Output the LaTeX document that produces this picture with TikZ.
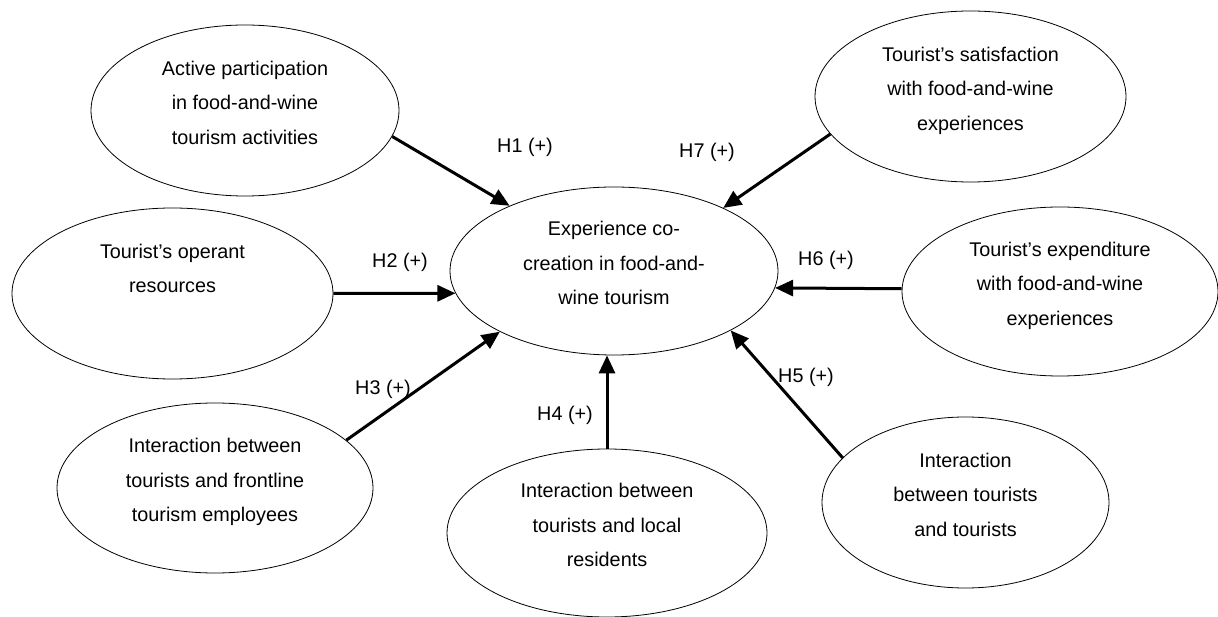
\documentclass[tikz,border=0pt]{standalone}
\usepackage{fontspec}
\setmainfont{Liberation Sans}
\usetikzlibrary{shapes.geometric, arrows.meta}
\tikzset{
  construct/.style 2 args={ellipse, draw, line width=0.8pt, minimum width=#1, minimum height=#2,
    inner sep=2pt, align=center, text depth=16pt},
  hyparrow/.style={line width=3pt, -{Triangle[length=18pt, width=16pt]}}
}
\begin{document}
\begin{tikzpicture}[x=1pt, y=-1pt, every node/.style={font=\fontsize{19.8pt}{34.5pt}\selectfont}]
\useasboundingbox (0,0) rectangle (1218,617);
% Central construct
\node[construct={328pt}{168pt}] (cocreation) at (614,271) {Experience co-\\creation in food-and-\\wine tourism};
% Antecedents (left side)
\node[construct={308pt}{171pt}] (participation) at (245,110.5) {Active participation\\in food-and-wine\\tourism activities};
\node[construct={321pt}{171pt}] (resources) at (172.5,293.5) {Tourist's operant\\resources\\\mbox{}};
\node[construct={316pt}{170pt}] (frontline) at (215,488) {Interaction between\\tourists and frontline\\tourism employees};
\node[construct={320pt}{168pt}] (residents) at (607,533) {Interaction between\\tourists and local\\residents};
% Antecedents (right side)
\node[construct={287pt}{171pt}] (tourists) at (965.5,502.5) {Interaction\\between tourists\\and tourists};
\node[construct={316pt}{169pt}] (expenditure) at (1060,291.5) {Tourist's expenditure\\with food-and-wine\\experiences};
\node[construct={311pt}{171pt}] (satisfaction) at (970.5,96.5) {Tourist's satisfaction\\with food-and-wine\\experiences};
% Hypotheses
\draw[hyparrow] (participation.-10) -- (cocreation.148);
\draw[hyparrow] (resources.east) -- (cocreation.188);
\draw[hyparrow] (frontline.20) -- (cocreation.208);
\draw[hyparrow] (residents.north) -- (residents.north |- cocreation.south);
\draw[hyparrow] (tourists.160) -- (cocreation.-27);
\draw[hyparrow] (expenditure.179) -- (cocreation.-6);
\draw[hyparrow] (satisfaction.-165) -- (cocreation.30);
% Labels
\node (h1) at (525,147) {H1 (+)};
\node (h2) at (400,262) {H2 (+)};
\node (h3) at (383,389) {H3 (+)};
\node (h4) at (565,415) {H4 (+)};
\node (h5) at (806,377) {H5 (+)};
\node (h6) at (826,260) {H6 (+)};
\node (h7) at (707,152) {H7 (+)};
\end{tikzpicture}
\end{document}
